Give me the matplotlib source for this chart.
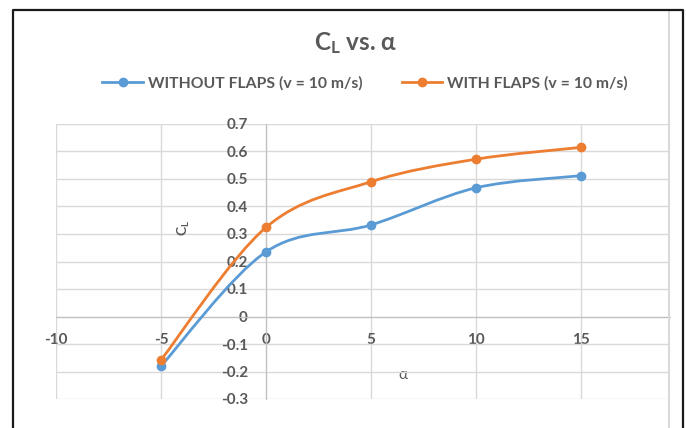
import matplotlib
matplotlib.use("Agg")
import matplotlib.pyplot as plt
from matplotlib.path import Path
from matplotlib.patches import PathPatch
from matplotlib.lines import Line2D

# Data
alpha = [-5, 0, 5, 10, 15]
cl_without = [-0.18, 0.235, 0.333, 0.468, 0.512]
cl_with = [-0.158, 0.324, 0.49, 0.572, 0.615]
series_names = ["WITHOUT FLAPS (v = 10 m/s)", "WITH FLAPS (v = 10 m/s)"]
x_ticks = [-10, -5, 0, 5, 10, 15]
x_tick_labels = ["-10", "-5", "0", "5", "10", "15"]
y_ticks = [-0.3, -0.2, -0.1, 0, 0.1, 0.2, 0.3, 0.4, 0.5, 0.6, 0.7]
y_tick_labels = ["-0.3", "-0.2", "-0.1", "0", "0.1", "0.2", "0.3", "0.4", "0.5", "0.6", "0.7"]

blue = "#5B9BD5"
orange = "#ED7D31"
text_grey = "#595959"

plt.rcParams['font.family'] = ['Lato', 'DejaVu Sans']
plt.rcParams['font.weight'] = 'bold'
plt.rcParams['mathtext.fontset'] = 'custom'
plt.rcParams['mathtext.rm'] = 'Lato'
plt.rcParams['mathtext.bf'] = 'Lato:bold'


def smooth_path(xs, ys):
    # Excel-style smoothed line: cubic bezier segments through every point
    verts = [(xs[0], ys[0])]
    codes = [Path.MOVETO]
    n = len(xs)
    for i in range(n - 1):
        x0, y0 = (xs[i - 1], ys[i - 1]) if i > 0 else (xs[i], ys[i])
        x3, y3 = (xs[i + 2], ys[i + 2]) if i + 2 < n else (xs[i + 1], ys[i + 1])
        c1 = (xs[i] + (xs[i + 1] - x0) / 6, ys[i] + (ys[i + 1] - y0) / 6)
        c2 = (xs[i + 1] - (x3 - xs[i]) / 6, ys[i + 1] - (y3 - ys[i]) / 6)
        verts += [c1, c2, (xs[i + 1], ys[i + 1])]
        codes += [Path.CURVE4] * 3
    return Path(verts, codes)


fig = plt.figure(figsize=(6.86, 4.28), dpi=100)
ax = fig.add_axes([56 / 686, 1 - 399 / 428, 614 / 686, 275 / 428])

for ys, col, name in [(cl_without, blue, series_names[0]), (cl_with, orange, series_names[1])]:
    ax.add_patch(PathPatch(smooth_path(alpha, ys), facecolor='none', edgecolor=col, lw=2, zorder=3))
    ax.plot(alpha, ys, linestyle='none', marker='o', markersize=6, color=col, zorder=4)

ax.set_xlim(-10, 19.24)
ax.set_ylim(-0.3, 0.7)
ax.set_xticks(x_ticks)
ax.set_xticklabels(x_tick_labels)
ax.set_yticks(y_ticks)
ax.set_yticklabels(y_tick_labels)
ax.tick_params(axis='both', length=0, labelsize=11, labelcolor=text_grey)
ax.tick_params(axis='y', pad=13)
ax.tick_params(axis='x', pad=12)

ax.grid(True, color='#d9d9d9', lw=1)
ax.set_axisbelow(True)
for g in ax.get_xgridlines() + ax.get_ygridlines():
    g.set_clip_on(False)
ax.spines['left'].set_position(('data', 0))
ax.spines['bottom'].set_position(('data', 0))
ax.spines['left'].set_color('#bfbfbf')
ax.spines['bottom'].set_color('#bfbfbf')
ax.spines['top'].set_visible(False)
ax.spines['right'].set_visible(False)

ax.set_ylabel(r'$\mathrm{C_L}$', fontsize=10, color=text_grey, fontweight='normal')
ax.yaxis.set_label_coords((192 - 56) / 614, (399 - 228) / 275)
ax.set_xlabel('α', fontsize=11, color=text_grey, fontweight='normal')
ax.xaxis.set_label_coords((403 - 56) / 614, (399 - 368) / 275)

fig.text(356 / 686, 1 - 43 / 428, r'$\mathbf{C_L}$ vs. α', ha='center', va='center',
         fontsize=17.5, fontweight='bold', color=text_grey)

handles = [Line2D([], [], color=blue, lw=2, marker='o', markersize=6),
           Line2D([], [], color=orange, lw=2, marker='o', markersize=6)]
leg = fig.legend(handles, series_names, loc='center', bbox_to_anchor=(365 / 686, 1 - 83 / 428),
                 ncol=2, frameon=False, handlelength=2.6, handletextpad=0.3, columnspacing=2.5,
                 prop={'size': 11.3, 'weight': 'bold'})
for t in leg.get_texts():
    t.set_color(text_grey)

# chart border and screenshot frame
fig.add_artist(Line2D([669 / 686, 669 / 686], [0, 1 - 10 / 428], color='#d9d9d9', lw=1.5))
fig.add_artist(Line2D([13 / 686, 13 / 686, 683 / 686, 683 / 686], [0, 1 - 10 / 428, 1 - 10 / 428, 0],
                      color='#1a1a1a', lw=1.6))

fig.savefig('out.png', dpi=100)
